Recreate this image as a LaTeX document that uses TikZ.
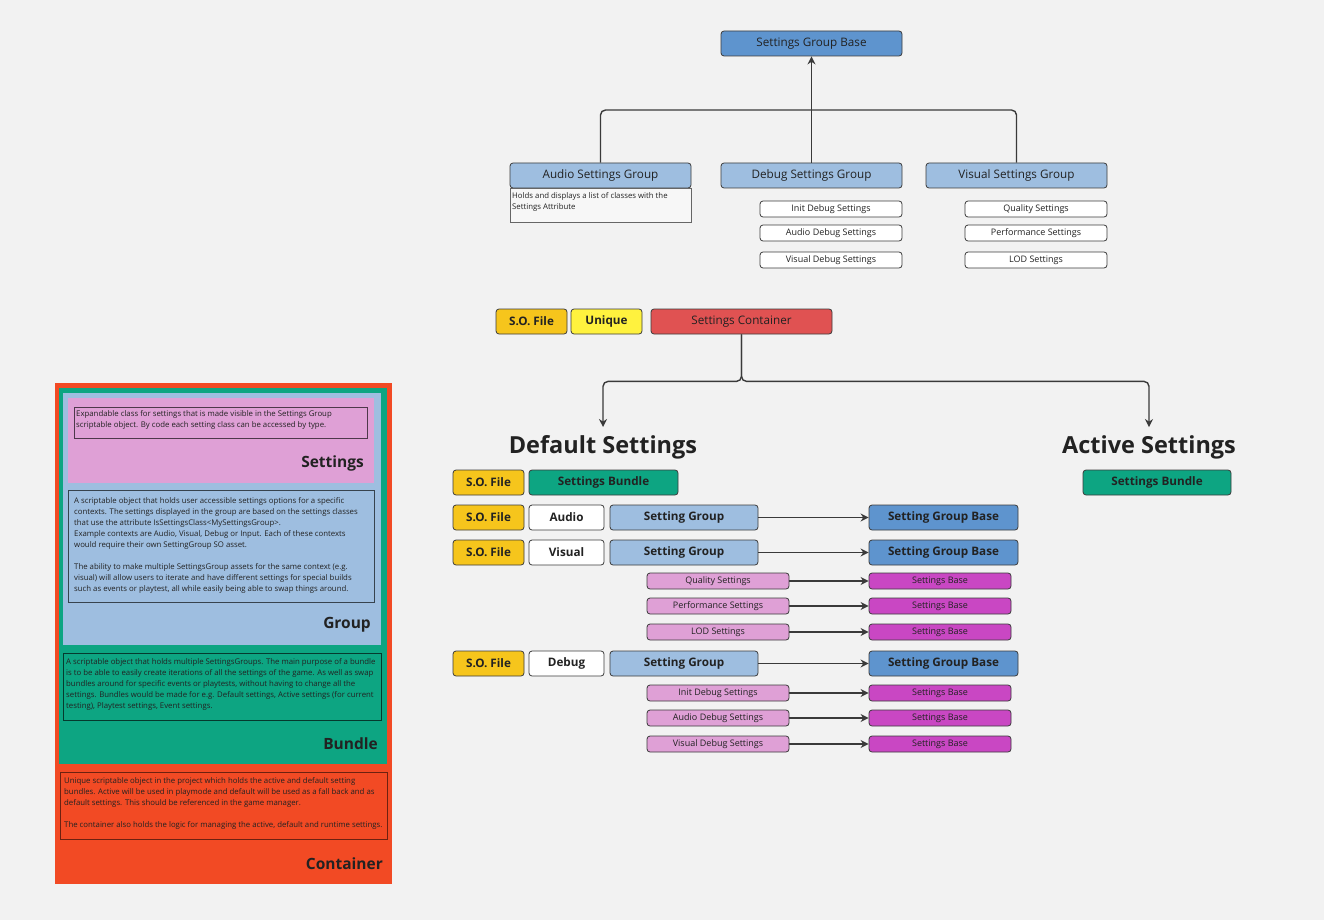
\documentclass[tikz,border=0pt]{standalone}
\usepackage{fontspec}
\setmainfont{Open Sans}
\usetikzlibrary{arrows.meta}

\definecolor{bgcol}{HTML}{F2F2F2}
\definecolor{bluemid}{HTML}{5E94CE}
\definecolor{bluelight}{HTML}{9EBEE0}
\definecolor{tealc}{HTML}{0DA582}
\definecolor{redbox}{HTML}{E05252}
\definecolor{redpanel}{HTML}{F24A24}
\definecolor{goldc}{HTML}{F6C51C}
\definecolor{yellowc}{HTML}{FFF23E}
\definecolor{pinkc}{HTML}{DFA0D6}
\definecolor{magentac}{HTML}{C947C3}
\definecolor{boxline}{HTML}{3C3C3C}
\definecolor{connline}{HTML}{3A3A3A}
\definecolor{inktext}{HTML}{222222}

\begin{document}
\begin{tikzpicture}[x=1pt, y=-1pt,
    box/.style={draw=boxline, rounded corners=3pt, line width=0.8pt, inner sep=0pt,
      minimum height=25pt, text=inktext, font=\fontsize{11.7}{14}\selectfont},
    bbox/.style={box, font=\fontsize{11.7}{14}\selectfont\bfseries},
    smallbox/.style={box, minimum height=16pt, minimum width=142pt, font=\fontsize{9}{11}\selectfont},
    line/.style={draw=connline, line width=1.4pt, rounded corners=5pt},
    conn/.style={line, -{Stealth[length=8pt, width=8pt]}},
    heading/.style={inner sep=0pt, text=inktext, font=\fontsize{23.5}{28}\selectfont\bfseries},
    notetext/.style={inner sep=0pt, anchor=north west, align=left, text=inktext,
      font=\fontsize{7.8}{11}\selectfont},
    paneltitle/.style={inner sep=0pt, anchor=east, text=inktext, font=\fontsize{15.5}{18}\selectfont\bfseries}]

  \fill[bgcol] (0,0) rectangle (1324,920);
  \useasboundingbox (0,0) rectangle (1324,920);

  % class tree
  \node[box, fill=bluemid, minimum width=181pt] (sgb) at (811.5,43.5) {Settings Group Base};
  \node[box, fill=bluelight, minimum width=181pt] (asg) at (600.5,175.5) {Audio Settings Group};
  \node[box, fill=bluelight, minimum width=181pt] (dsg) at (811.5,175.5) {Debug Settings Group};
  \node[box, fill=bluelight, minimum width=181pt] (vsg) at (1016.5,175.5) {Visual Settings Group};

  \draw[draw=gray!80!black, fill=white!40!bgcol, line width=0.9pt] (510,188) rectangle (691,222);
  \node[notetext] (asgnote) at (512,192.5) {Holds and displays a list of classes with the\\Settings Attribute};

  \node[smallbox, fill=white] (ids) at (831,209) {Init Debug Settings};
  \node[smallbox, fill=white] (ads) at (831,233) {Audio Debug Settings};
  \node[smallbox, fill=white] (vds) at (831,260) {Visual Debug Settings};
  \node[smallbox, fill=white] (qs) at (1036,209) {Quality Settings};
  \node[smallbox, fill=white] (pfs) at (1036,233) {Performance Settings};
  \node[smallbox, fill=white] (lods) at (1036,260) {LOD Settings};

  \draw[line] (asg.north) |- (811.5,110) -| (vsg.north);
  \draw[conn] (dsg.north) -- (sgb.south);

  % container
  \node[bbox, fill=goldc, minimum width=71pt] (sofile) at (531.5,321.5) {S.O. File};
  \node[bbox, fill=yellowc, minimum width=71pt] (uniq) at (606.5,321.5) {Unique};
  \node[box, fill=redbox, minimum width=181pt] (cont) at (741.5,321.5) {Settings Container};

  \node[heading] (dflt) at (603,447) {Default Settings};
  \node[heading] (actv) at (1149,447) {Active Settings};

  \draw[conn] (cont.south) -- ++(0,47) -| ([yshift=8pt]dflt.north);
  \draw[conn] (cont.south) -- ++(0,47) -| ([yshift=8pt]actv.north);

  % bundles
  \node[bbox, fill=goldc, minimum width=71pt] (sobund) at (488.5,482.5) {S.O. File};
  \node[bbox, fill=tealc, minimum width=149pt] (dbund) at (603.5,482.5) {Settings Bundle};
  \node[bbox, fill=tealc, minimum width=148pt] (abund) at (1157,482.5) {Settings Bundle};

  % setting groups
  \node[bbox, fill=goldc, minimum width=71pt] (soaud) at (488.5,517.5) {S.O. File};
  \node[bbox, fill=white, minimum width=75pt] (aud) at (566.5,517.5) {Audio};
  \node[bbox, fill=bluelight, minimum width=148pt] (sgaud) at (684,517.5) {Setting Group};
  \node[bbox, fill=bluemid, minimum width=149pt] (sgbaud) at (943.5,517.5) {Setting Group Base};

  \node[bbox, fill=goldc, minimum width=71pt] (sovis) at (488.5,552.5) {S.O. File};
  \node[bbox, fill=white, minimum width=75pt] (vis) at (566.5,552.5) {Visual};
  \node[bbox, fill=bluelight, minimum width=148pt] (sgvis) at (684,552.5) {Setting Group};
  \node[bbox, fill=bluemid, minimum width=149pt] (sgbvis) at (943.5,552.5) {Setting Group Base};

  \node[bbox, fill=goldc, minimum width=71pt] (sodbg) at (488.5,663.5) {S.O. File};
  \node[bbox, fill=white, minimum width=75pt] (dbg) at (566.5,663.5) {Debug};
  \node[bbox, fill=bluelight, minimum width=148pt] (sgdbg) at (684,663.5) {Setting Group};
  \node[bbox, fill=bluemid, minimum width=149pt] (sgbdbg) at (943.5,663.5) {Setting Group Base};

  \draw[conn] (sgaud) -- (sgbaud);
  \draw[conn] (sgvis) -- (sgbvis);
  \draw[conn] (sgdbg) -- (sgbdbg);

  \foreach \i/\yy/\txt in {1/581/Quality Settings, 2/606/Performance Settings, 3/632/LOD Settings,
      4/693/Init Debug Settings, 5/718/Audio Debug Settings, 6/744/Visual Debug Settings}{
    \node[smallbox, fill=pinkc] (ps\i) at (718,\yy) {\txt};
    \node[smallbox, fill=magentac] (sb\i) at (940,\yy) {Settings Base};
    \draw[conn] (ps\i) -- (sb\i);
  }

  % legend panel
  \fill[redpanel] (55,383) rectangle (392,884);
  \fill[tealc] (59,388) rectangle (387,764);
  \fill[bluelight] (63,393) rectangle (381,645);
  \fill[pinkc] (68,398) rectangle (374,483);

  \draw[draw=pinkc!35!black, line width=0.8pt] (74,407) rectangle (367,438);
  \node[notetext] (settxt) at (76,410) {Expandable class for settings that is made visible in the Settings Group\\
    scriptable object. By code each setting class can be accessed by type.};
  \node[paneltitle] (settitle) at (364,463) {Settings};

  \draw[draw=bluelight!35!black, line width=0.8pt] (68,490) rectangle (374,602);
  \node[notetext] (grptxt) at (74,497) {A scriptable object that holds user accessible settings options for a specific\\
    contexts. The settings displayed in the group are based on the settings classes\\
    that use the attribute IsSettingsClass<MySettingsGroup>.\\
    Example contexts are Audio, Visual, Debug or Input. Each of these contexts\\
    would require their own SettingGroup SO asset.\\[11pt]
    The ability to make multiple SettingsGroup assets for the same context (e.g.\\
    visual) will allow users to iterate and have different settings for special builds\\
    such as events or playtest, all while easily being able to swap things around.};
  \node[paneltitle] (grptitle) at (371,625) {Group};

  \draw[draw=tealc!35!black, line width=0.8pt] (63,653) rectangle (381,720);
  \node[notetext] (bndtxt) at (66,658) {A scriptable object that holds multiple SettingsGroups. The main purpose of a bundle\\
    is to be able to easily create iterations of all the settings of the game. As well as swap\\
    bundles around for specific events or playtests, without having to change all the\\
    settings. Bundles would be made for e.g. Default settings, Active settings (for current\\
    testing), Playtest settings, Event settings.};
  \node[paneltitle] (bndtitle) at (378,744) {Bundle};

  \draw[draw=redpanel!45!black, line width=0.8pt] (60,772) rectangle (387,839);
  \node[notetext] (conttxt) at (64,777) {Unique scriptable object in the project which holds the active and default setting\\
    bundles. Active will be used in playmode and default will be used as a fall back and as\\
    default settings. This should be referenced in the game manager.\\[11pt]
    The container also holds the logic for managing the active, default and runtime settings.};
  \node[paneltitle] (conttitle) at (383,864) {Container};
\end{tikzpicture}
\end{document}
